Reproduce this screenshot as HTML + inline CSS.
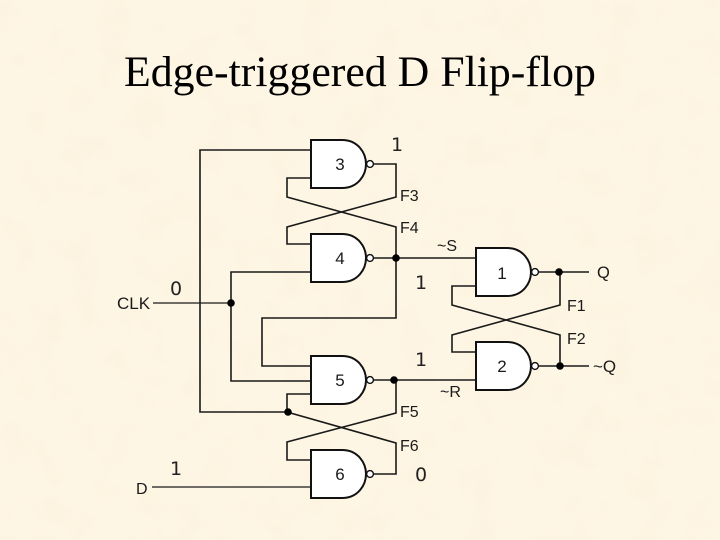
<!DOCTYPE html>
<html>
<head>
<meta charset="utf-8">
<style>
html,body{margin:0;padding:0;width:720px;height:540px;overflow:hidden;background:#fdf3dd}
svg{display:block;position:absolute;left:0;top:0}
</style>
</head>
<body>
<svg width="720" height="540" viewBox="0 0 720 540" xmlns="http://www.w3.org/2000/svg">
<defs>
<filter id="tex" x="0" y="0" width="100%" height="100%">
<feTurbulence type="fractalNoise" baseFrequency="0.03" numOctaves="3" seed="4"/>
<feColorMatrix type="matrix" values="0 0 0 0 0.97  0 0 0 0 0.89  0 0 0 0 0.74  3.2 0 0 0 -1.35"/>
</filter>
<g id="gate">
<path d="M0 0H31C47 0 55 13 55 24C55 35 47 48 31 48H0Z" fill="#fff" stroke="#111" stroke-width="2"/>
<circle cx="59" cy="24" r="3.4" fill="#fff" stroke="#111" stroke-width="1.4"/>
</g>
</defs>
<rect width="720" height="540" fill="#fef6e4"/>
<rect width="720" height="540" filter="url(#tex)" opacity=".6"/>

<text x="360" y="86" text-anchor="middle" font-family="'Liberation Serif',serif" font-size="43.8" fill="#000">Edge-triggered D Flip-flop</text>

<g fill="none" stroke="#1a1a1a" stroke-width="1.6">
<path d="M311 150H200V412H288"/>
<path d="M311 178H287V197L396 227V258"/>
<path d="M373 164H396V197L287 227V244H311"/>
<path d="M311 272H231V381H311"/>
<path d="M373 258H476"/>
<path d="M396 258V318H262V366H311"/>
<path d="M153 303H231" stroke-width="1.2"/>
<path d="M152 487H311" stroke-width="1.2"/>
<path d="M311 394H287V412L396 443V474H373"/>
<path d="M373 380H476"/>
<path d="M396 380V413L287 442V460H311"/>
<path d="M476 286H452V305L560 335V366"/>
<path d="M538 272H589"/>
<path d="M560 272V305L452 335V352H476"/>
<path d="M538 366H589"/>
</g>

<use href="#gate" x="311" y="140"/>
<use href="#gate" x="311" y="234"/>
<use href="#gate" x="311" y="356"/>
<use href="#gate" x="311" y="450"/>
<use href="#gate" x="476" y="248"/>
<use href="#gate" x="476" y="342"/>

<g fill="#000">
<circle cx="396" cy="258" r="3.8"/>
<circle cx="231" cy="303" r="3.8"/>
<circle cx="394" cy="380" r="3.8"/>
<circle cx="288" cy="412" r="3.8"/>
<circle cx="559" cy="272" r="3.8"/>
<circle cx="560" cy="366" r="3.8"/>
</g>

<g font-family="'Liberation Sans',sans-serif" font-size="16" fill="#1a1a1a">
<text x="340" y="170" text-anchor="middle" font-size="17">3</text>
<text x="340" y="264" text-anchor="middle" font-size="17">4</text>
<text x="340" y="386" text-anchor="middle" font-size="17">5</text>
<text x="340" y="480" text-anchor="middle" font-size="17">6</text>
<text x="502" y="279" text-anchor="middle" font-size="17">1</text>
<text x="502" y="372" text-anchor="middle" font-size="17">2</text>
<text x="400" y="201">F3</text>
<text x="400" y="233">F4</text>
<text x="567" y="311">F1</text>
<text x="567" y="344">F2</text>
<text x="400" y="417">F5</text>
<text x="400" y="451">F6</text>
<text x="437" y="251">~S</text>
<text x="440" y="397">~R</text>
<text x="597" y="278" font-size="16.5">Q</text>
<text x="593" y="372" font-size="17">~Q</text>
<text x="117" y="309" font-size="17">CLK</text>
<text x="136" y="494">D</text>
</g>

<g font-family="'DejaVu Sans',sans-serif" font-size="19" fill="#222" text-anchor="middle">
<text x="397" y="151">1</text>
<text x="421" y="289">1</text>
<text x="421" y="366">1</text>
<text x="176" y="295">0</text>
<text x="176" y="475">1</text>
<text x="421" y="481">0</text>
</g>
</svg>
</body>
</html>
